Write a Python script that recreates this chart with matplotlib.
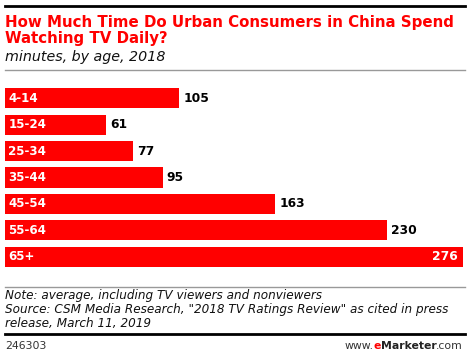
import matplotlib.pyplot as plt

# data
ages = ['4-14', '15-24', '25-34', '35-44', '45-54', '55-64', '65+']
minutes = [105, 61, 77, 95, 163, 230, 276]

W, H = 470, 357
fig = plt.figure(figsize=(W / 100, H / 100), dpi=100)
fig.patch.set_facecolor('white')

def fy(py):
    return 1 - py / H

# bars area
ax = fig.add_axes([5 / W, fy(273), (463 - 5) / W, (273 - 82) / H])
ypos = list(range(len(ages)))
ax.barh(ypos, minutes, height=0.76, color='#ff0000', edgecolor='none')
ax.set_xlim(0, 276)
ax.set_ylim(len(ages) - 0.5 + 0.12, -0.5 - 0.12)
ax.axis('off')

for i, (a, v) in enumerate(zip(ages, minutes)):
    ax.text(2, i, a, color='white', fontsize=8.6, fontweight='bold',
            va='center', ha='left')
    if v == max(minutes):
        # biggest bar gets its value inside, in white
        ax.text(v - 3, i, str(v), color='white', fontsize=8.8,
                fontweight='bold', va='center', ha='right')
    else:
        ax.text(v + 2.5, i, str(v), color='black', fontsize=8.8,
                fontweight='bold', va='center', ha='left')

# header
fig.add_artist(plt.Line2D([5 / W, 465 / W], [fy(6), fy(6)], color='black', lw=2))
fig.text(5 / W, fy(27), 'How Much Time Do Urban Consumers in China Spend',
         color='#ff0000', fontsize=10.8, fontweight='bold', va='baseline')
fig.text(5 / W, fy(43), 'Watching TV Daily?',
         color='#ff0000', fontsize=10.8, fontweight='bold', va='baseline')
fig.text(5 / W, fy(61), 'minutes, by age, 2018', color='#111111',
         fontsize=10.3, style='italic', va='baseline')
fig.add_artist(plt.Line2D([5 / W, 465 / W], [fy(70), fy(70)], color='#999999', lw=1))

# footer
fig.add_artist(plt.Line2D([5 / W, 465 / W], [fy(287), fy(287)], color='#999999', lw=1))
notes = ['Note: average, including TV viewers and nonviewers',
         'Source: CSM Media Research, "2018 TV Ratings Review" as cited in press',
         'release, March 11, 2019']
for k, line in enumerate(notes):
    fig.text(5 / W, fy(299 + 14 * k), line, color='#111111', fontsize=8.65,
             style='italic', va='baseline')
fig.add_artist(plt.Line2D([5 / W, 465 / W], [fy(334), fy(334)], color='black', lw=2))
fig.text(5 / W, fy(349), '246303', color='#333333', fontsize=7.8, va='baseline')

# www.eMarketer.com with red e and bold Marketer, laid out right to left
renderer = fig.canvas.get_renderer()
x_right = 463 / W
pieces = [('.com', '#333333', 'normal'), ('Marketer', '#222222', 'bold'),
          ('e', '#ff0000', 'bold'), ('www.', '#333333', 'normal')]
for txt, col, wt in pieces:
    t = fig.text(x_right, fy(349), txt, color=col, fontsize=7.8, fontweight=wt,
                 va='baseline', ha='right')
    bb = t.get_window_extent(renderer)
    x_right -= bb.width / (W)

plt.savefig('out.png', dpi=100)
